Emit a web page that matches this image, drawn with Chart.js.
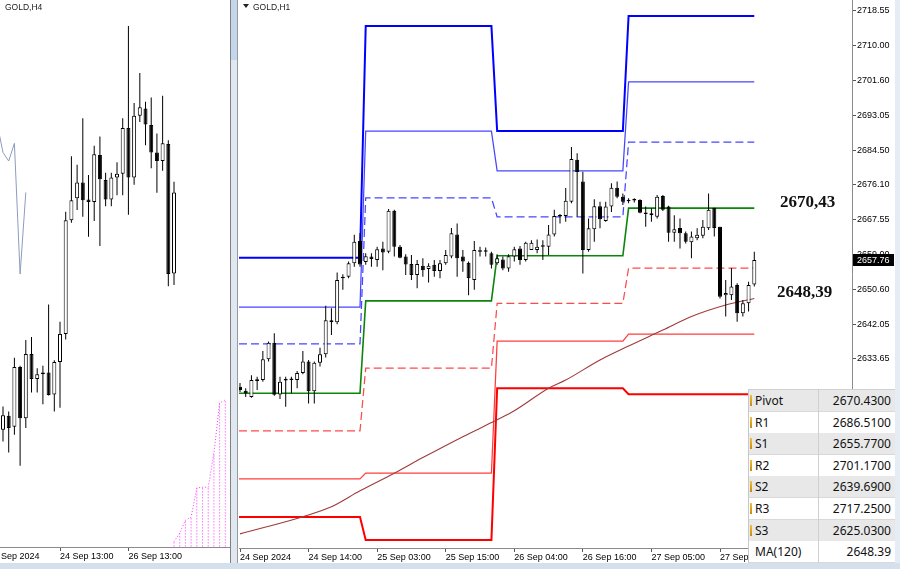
<!DOCTYPE html>
<html><head><meta charset="utf-8">
<script src="https://cdn.jsdelivr.net/npm/chart.js@4.4.0/dist/chart.umd.min.js"></script>
<style>
html,body{margin:0;padding:0;background:#fff;}
body{width:900px;height:569px;position:relative;overflow:hidden;font-family:"Liberation Sans",Arial,sans-serif;}
canvas{position:absolute;top:0;}
#c4{left:0;}
#c1{left:239px;}
.abs{position:absolute;}
.ttl{position:absolute;top:1px;font-size:8.5px;color:#222;line-height:12px;}
.row{position:absolute;left:0;width:146px;height:21px;border-bottom:1px solid #d9d9d9;font-family:"Noto Sans","Open Sans",sans-serif;font-size:12px;color:#111;}
.row .lab{position:absolute;left:6px;top:2px;line-height:17px;}
.row .val{position:absolute;right:4px;top:2px;line-height:17px;text-align:right;}
.row .ico{position:absolute;left:1px;top:5px;width:2px;height:11px;background:linear-gradient(#f0c040,#c88a10);}
.row .div{position:absolute;left:69px;top:0;width:1px;height:22px;background:#d0d0d0;}
</style></head>
<body>
<canvas id="c4" width="230" height="569"></canvas>
<canvas id="c1" width="661" height="569"></canvas>
<div class="ttl" style="left:5px;">GOLD,H4</div>
<div class="abs" style="left:243px;top:4px;width:0;height:0;border-left:3.5px solid transparent;border-right:3.5px solid transparent;border-top:4px solid #222;"></div>
<div class="ttl" style="left:253px;">GOLD,H1</div>
<div class="abs" style="left:230px;top:0;width:1px;height:563px;background:#808080;"></div>
<div class="abs" style="left:231px;top:0;width:6px;height:563px;background:#dfe7f1;"></div>
<div class="abs" style="left:231px;top:0;width:6px;height:60px;background:#c4d6eb;"></div>
<div class="abs" style="left:237px;top:0;width:1px;height:563px;background:#9a9a9a;"></div>
<div id="tbl" class="abs" style="left:748px;top:389px;width:146px;height:173px;border-left:1px solid #c8c8c8;border-top:1px solid #d0d0d0;background:#fff;"></div>
<div class="abs" style="left:895px;top:0;width:5px;height:569px;background:#e6ecf3;"></div>
<div class="abs" style="left:0;top:563px;width:900px;height:6px;background:#d5e0ee;"></div>
<script>
// ---------- H1 candles (24 Sep 02:00 ... 27 Sep 23:00) ----------
const h1Open  = [2626.9,2625.9,2624.4,2628.3,2628.5,2633.6,2637.6,2625.0,2628.4,2628.5,2628.5,2630.2,2633.0,2625.8,2632.7,2634.8,2643.1,2642.6,2653.3,2653.7,2657.0,2662.4,2657.3,2658.6,2657.8,2660.6,2659.8,2669.8,2661.0,2658.6,2656.8,2654.1,2656.4,2655.6,2656.6,2655.1,2657.0,2658.6,2664.0,2658.6,2657.1,2652.9,2659.8,2659.9,2659.4,2657.0,2657.9,2655.7,2658.6,2660.6,2657.8,2660.2,2660.2,2661.0,2661.0,2664.0,2668.5,2668.5,2672.0,2682.2,2676.9,2660.2,2665.3,2670.9,2667.3,2670.8,2675.4,2673.2,2672.2,2672.3,2672.4,2669.3,2669.2,2668.3,2673.4,2670.8,2664.4,2665.6,2664.3,2662.1,2663.1,2663.7,2665.5,2670.5,2665.9,2649.2,2649.2,2651.7,2644.8,2647.2,2651.8];
const h1High  = [2627.8,2626.5,2629.7,2629.3,2635.6,2637.9,2639.9,2629.3,2629.3,2629.3,2630.7,2635.6,2633.4,2633.0,2636.4,2646.6,2646.0,2654.7,2654.3,2657.4,2663.9,2664.3,2659.4,2659.4,2661.0,2662.2,2670.2,2670.0,2661.4,2659.2,2659.0,2657.8,2658.2,2657.0,2657.8,2657.8,2660.2,2665.6,2666.7,2660.2,2657.4,2662.4,2661.0,2660.8,2659.8,2659.2,2658.6,2659.2,2661.0,2661.2,2662.2,2662.6,2662.8,2662.6,2666.3,2670.0,2669.0,2675.3,2685.3,2683.8,2679.3,2667.9,2672.6,2672.0,2672.0,2676.5,2676.9,2674.0,2672.8,2672.8,2672.6,2670.8,2670.4,2673.6,2673.6,2671.0,2668.7,2667.9,2664.7,2664.7,2665.5,2667.5,2674.0,2670.5,2665.9,2652.9,2655.8,2652.1,2648.0,2652.5,2659.8];
const h1Low   = [2625.6,2624.4,2624.2,2626.1,2628.1,2633.0,2624.7,2623.9,2622.0,2625.3,2626.5,2629.9,2622.8,2622.8,2631.8,2634.0,2639.5,2642.1,2650.5,2653.3,2656.1,2656.1,2656.6,2656.1,2656.1,2655.3,2659.4,2658.6,2658.2,2654.1,2652.9,2650.9,2653.7,2652.3,2653.7,2653.3,2656.6,2658.2,2653.7,2654.9,2649.2,2650.5,2658.6,2658.6,2655.7,2656.6,2655.3,2654.9,2657.4,2656.6,2657.4,2660.2,2659.4,2657.8,2659.0,2663.5,2666.7,2667.1,2671.6,2668.3,2654.5,2659.8,2662.2,2665.5,2667.1,2669.5,2672.8,2671.2,2671.6,2671.8,2669.2,2665.9,2667.1,2667.9,2669.7,2662.2,2662.2,2660.6,2661.8,2658.2,2662.6,2663.1,2665.1,2663.5,2648.4,2644.0,2648.0,2642.7,2644.0,2645.2,2651.3];
const h1Close = [2626.1,2625.3,2628.5,2628.7,2633.6,2637.6,2624.9,2628.1,2628.6,2628.7,2630.2,2633.0,2625.8,2632.7,2634.8,2643.1,2642.6,2652.9,2653.7,2657.0,2662.2,2656.7,2658.7,2658.0,2660.4,2659.6,2669.8,2661.0,2658.3,2656.7,2654.1,2656.8,2655.3,2656.4,2655.1,2657.0,2659.0,2664.3,2658.2,2657.4,2653.3,2660.2,2659.9,2659.8,2656.6,2658.2,2655.7,2658.7,2660.4,2657.8,2662.0,2662.0,2661.0,2661.1,2664.0,2668.5,2668.4,2672.2,2682.4,2679.2,2660.2,2665.5,2670.9,2667.7,2670.8,2675.4,2673.2,2672.0,2672.1,2672.4,2669.3,2669.0,2668.7,2673.2,2670.0,2664.4,2665.3,2664.3,2662.2,2663.5,2663.9,2665.9,2670.0,2665.6,2648.8,2649.7,2651.3,2644.8,2647.2,2651.7,2657.76];

// ---------- daily pivot levels (24, 25, 26, 27 Sep) ----------
const levelR3 = [2658.3, 2714.8, 2689.2, 2717.25];
const levelR2 = [2646.3, 2689.2, 2679.5, 2701.17];
const levelR1 = [2637.3, 2672.9, 2668.3, 2686.51];
const levelP  = [2625.3, 2647.8, 2658.8, 2670.43];
const levelS1 = [2616.1, 2631.4, 2647.2, 2655.77];
const levelS2 = [2604.4, 2605.8, 2638.0, 2639.69];
const levelS3 = [2595.1, 2589.5, 2626.5, 2625.03];
const dayFirstBar = [0, 22, 45, 68];
const dayLastBar  = [21, 44, 67, 90];

// ---------- MA(120) ----------
const maBars   = [0, 11, 16, 21, 27, 32, 39, 45, 48, 54, 57, 63, 68, 74, 79, 85, 90];
const maValues = [2591.0,2595.2,2597.6,2601.5,2605.8,2609.6,2614.7,2618.8,2621.0,2626.5,2628.5,2633.4,2636.8,2640.7,2644.0,2646.8,2648.4];

// ---------- H1 axes ----------
const h1TickBars   = [0, 12, 24, 36, 48, 60, 72, 84];
const h1TickLabels = ['24 Sep 2024','24 Sep 14:00','25 Sep 03:00','25 Sep 15:00','26 Sep 04:00','26 Sep 16:00','27 Sep 05:00','27 Sep 17:00'];
const priceTicks   = [2633.65,2642.05,2650.60,2659.00,2667.55,2676.10,2684.50,2693.05,2701.60,2710.00,2718.55];

// ---------- H4 candles ----------
const h4Open  = [2618.9,2621.2,2619.4,2629.2,2620.8,2631.3,2627.2,2628.0,2628.3,2624.7,2630.0,2634.6,2653.2,2656.8,2659.4,2656.6,2656.2,2663.9,2659.8,2656.6,2660.2,2660.8,2668.3,2660.2,2670.3,2671.5,2668.8,2664.3,2662.9,2665.7,2644.5];
const h4High  = [2622.7,2621.9,2630.7,2629.4,2633.6,2634.1,2629.0,2629.4,2639.4,2630.3,2636.6,2654.6,2663.7,2662.3,2669.9,2660.6,2665.4,2666.9,2661.0,2661.0,2662.7,2669.9,2685.0,2672.4,2677.3,2672.6,2673.3,2667.4,2673.6,2666.3,2659.5];
const h4Low   = [2617.0,2615.2,2618.1,2613.0,2619.2,2625.0,2625.0,2623.1,2624.5,2621.9,2622.5,2633.7,2652.8,2654.9,2653.8,2650.5,2653.1,2649.0,2655.5,2655.5,2657.3,2657.3,2654.1,2659.0,2669.3,2665.5,2661.7,2657.7,2661.3,2642.4,2642.6];
const h4Close = [2621.3,2619.2,2629.2,2620.8,2631.3,2627.2,2628.0,2628.3,2624.6,2630.0,2634.6,2653.2,2656.5,2659.4,2656.5,2656.2,2664.0,2659.9,2656.6,2660.2,2660.8,2668.3,2660.2,2670.3,2671.7,2668.9,2664.3,2662.9,2665.8,2644.4,2657.76];
const h4TickBars   = [-0.35, 10, 22];
const h4TickLabels = ['Sep 2024','24 Sep 13:00','26 Sep 13:00'];
const chikouBars   = [-1, 0, 1, 2, 3, 4];
const chikouValues = [2668.9, 2664.3, 2662.9, 2665.8, 2644.4, 2657.76];
const cloudBars    = [30, 31, 32, 33, 34, 35, 36, 37, 38, 39];
const cloudTops    = [2600.6, 2602.0, 2604.1, 2604.6, 2609.4, 2609.5, 2609.5, 2615.1, 2623.3, 2623.8];

// ---------- table / annotations ----------
const tableNames  = ['Pivot','R1','S1','R2','S2','R3','S3','MA(120)'];
const tableValues = ['2670.4300','2686.5100','2655.7700','2701.1700','2639.6900','2717.2500','2625.0300','2648.39'];
const annoTexts  = ['2670,43', '2648,39'];
const annoValues = [2670.43, 2648.39];

// ---------- scale geometry ----------
const X1_MIN = -0.175, X1_MAX = 107.1, Y1_MIN = 2587.56, Y1_MAX = 2721.16;
const X4_MIN = -0.526, X4_MAX = 39.82, Y4_MIN = 2599.72, Y4_MAX = 2689.26;

function candleSets(O, H, L, C) {
  const up = O.map((o, i) => C[i] >= o);
  return [
    {type:'bar', data:O.map((o,i)=>({x:i, y:[L[i], H[i]]})), backgroundColor:'#000', borderWidth:0,
     barThickness:1, grouped:false, order:1, inflateAmount:0},
    {type:'bar', data:O.map((o,i)=>({x:i, y:[Math.min(o,C[i]), Math.max(o,C[i])]})),
     backgroundColor: up.map(u => u ? '#ffffff' : '#000000'), borderColor:'#000', borderWidth:1,
     borderSkipped:false, barThickness:4, minBarLength:1.5, grouped:false, order:0, inflateAmount:0}
  ];
}
function levelSet(vals, color, width, dash) {
  const pts = [];
  vals.forEach((v, d) => {
    pts.push({x: d === 0 ? X1_MIN : dayFirstBar[d], y: v});
    pts.push({x: dayLastBar[d], y: v});
  });
  return {type:'line', data:pts, borderColor:color, borderWidth:width, borderDash:dash || [],
          pointRadius:0, fill:false, tension:0, order:3};
}
const axisFont = {family:'"Liberation Sans", Arial, sans-serif', size:9};

// ---------------- right chart (H1) ----------------
const tagPlugin = {
  id:'tags',
  afterDatasetsDraw(chart) {
    const ctx = chart.ctx, y = chart.scales.y;
    ctx.save();
    ctx.fillStyle = '#111';
    ctx.font = 'bold 17px "Liberation Serif", "Times New Roman", serif';
    ctx.textBaseline = 'middle';
    ctx.fillText(annoTexts[0], 541, y.getPixelForValue(annoValues[0]) - 5);
    ctx.fillText(annoTexts[1], 538, y.getPixelForValue(annoValues[1]) - 6);
    ctx.restore();
  },
  afterDraw(chart) {
    const ctx = chart.ctx, y = chart.scales.y;
    const last = h1Close[h1Close.length - 1];
    const py = Math.round(y.getPixelForValue(last));
    ctx.save();
    ctx.fillStyle = '#000';
    ctx.fillRect(614, py - 6, 41, 12);
    ctx.fillStyle = '#fff';
    ctx.font = '9px "Liberation Sans", Arial, sans-serif';
    ctx.textBaseline = 'middle';
    ctx.fillText(last.toFixed(2), 618, py + 0.5);
    ctx.restore();
  }
};

new Chart(document.getElementById('c1'), {
  type:'bar',
  data:{datasets:[
    ...candleSets(h1Open, h1High, h1Low, h1Close),
    levelSet(levelR3, '#0000ff', 2),
    levelSet(levelR2, '#4646ff', 1.25),
    levelSet(levelR1, '#4646ff', 1.25, [8,4]),
    levelSet(levelP,  '#0c850c', 1.6),
    levelSet(levelS1, '#ff4a4a', 1.25, [8,4]),
    levelSet(levelS2, '#ff3c3c', 1.25),
    levelSet(levelS3, '#ff0000', 2),
    {type:'line', data:maBars.map((b,i)=>({x:b, y:maValues[i]})), borderColor:'#a03a3a', borderWidth:1.1,
     pointRadius:0, fill:false, cubicInterpolationMode:'monotone', order:2}
  ]},
  options:{
    responsive:false, devicePixelRatio:1, animation:false, events:[],
    layout:{padding:0},
    plugins:{legend:{display:false}, tooltip:{enabled:false}},
    scales:{
      x:{type:'linear', min:X1_MIN, max:X1_MAX, offset:false, bounds:'data', position:'bottom',
         grid:{display:true, offset:false, drawOnChartArea:false, drawTicks:true, tickLength:4, color:'#555'},
         border:{display:true, color:'#8a8a8a'},
         ticks:{autoSkip:false, maxRotation:0, minRotation:0, align:'start', padding:0, color:'#000', font:axisFont,
                callback:(v,i)=>h1TickLabels[i]},
         afterBuildTicks:s=>{s.ticks = h1TickBars.map(v=>({value:v}));},
         afterFit:s=>{s.height = 21; s.paddingLeft = 0; s.paddingRight = 0;}},
      y:{type:'linear', position:'right', min:Y1_MIN, max:Y1_MAX, bounds:'data',
         grid:{drawOnChartArea:false, drawTicks:true, tickLength:4, color:'#555'},
         border:{display:true, color:'#8a8a8a'},
         ticks:{autoSkip:false, padding:1, color:'#000', font:axisFont, callback:v=>Number(v).toFixed(2)},
         afterBuildTicks:s=>{s.ticks = priceTicks.map(v=>({value:v}));},
         afterFit:s=>{s.width = 48; s.paddingTop = 0; s.paddingBottom = 0;}}
    }
  },
  plugins:[tagPlugin]
});

// ---------------- left chart (H4) ----------------
const cloudPts = [];
cloudBars.forEach((b,i)=>{ cloudPts.push({x:b, y:2590}); cloudPts.push({x:b, y:cloudTops[i]}); cloudPts.push({x:b, y:null}); });
new Chart(document.getElementById('c4'), {
  type:'bar',
  data:{datasets:[
    ...candleSets(h4Open, h4High, h4Low, h4Close),
    {type:'line', data:chikouBars.map((b,i)=>({x:b, y:chikouValues[i]})), borderColor:'#8d9cbc', borderWidth:1,
     pointRadius:0, fill:false, tension:0, order:2},
    {type:'line', data:cloudPts, borderColor:'#ff33ff', borderWidth:1, borderDash:[1,2], spanGaps:false,
     pointRadius:0, fill:false, tension:0, order:3},
    {type:'line', data:cloudBars.map((b,i)=>({x:b, y:cloudTops[i]})), borderColor:'#ff33ff', borderWidth:1, borderDash:[1,2],
     pointRadius:0, fill:false, tension:0, order:3}
  ]},
  options:{
    responsive:false, devicePixelRatio:1, animation:false, events:[],
    layout:{padding:0},
    plugins:{legend:{display:false}, tooltip:{enabled:false}},
    scales:{
      x:{type:'linear', min:X4_MIN, max:X4_MAX, offset:false, bounds:'data', position:'bottom',
         grid:{display:true, offset:false, drawOnChartArea:false, drawTicks:true, tickLength:4,
               color:c=>c.index===0?'rgba(0,0,0,0)':'#555'},
         border:{display:true, color:'#8a8a8a'},
         ticks:{autoSkip:false, maxRotation:0, minRotation:0, align:'start', padding:0, color:'#000', font:axisFont,
                callback:(v,i)=>h4TickLabels[i]},
         afterBuildTicks:s=>{s.ticks = h4TickBars.map(v=>({value:v}));},
         afterFit:s=>{s.height = 22; s.paddingLeft = 0; s.paddingRight = 0;}},
      y:{type:'linear', display:false, min:Y4_MIN, max:Y4_MAX, bounds:'data'}
    }
  }
});

// ---------------- table ----------------
const tbl = document.getElementById('tbl');
tableNames.forEach((n,k)=>{
  const r = document.createElement('div');
  r.className = 'row';
  r.style.top = Math.round(k*21.6) + 'px';
  r.style.background = (k % 2 === 0) ? '#e8e8e8' : '#ffffff';
  r.innerHTML = (k < 7 ? '<div class="ico"></div>' : '') + '<div class="lab">' + n + '</div><div class="div"></div><div class="val">' + tableValues[k] + '</div>';
  tbl.appendChild(r);
});
</script>
</body></html>
